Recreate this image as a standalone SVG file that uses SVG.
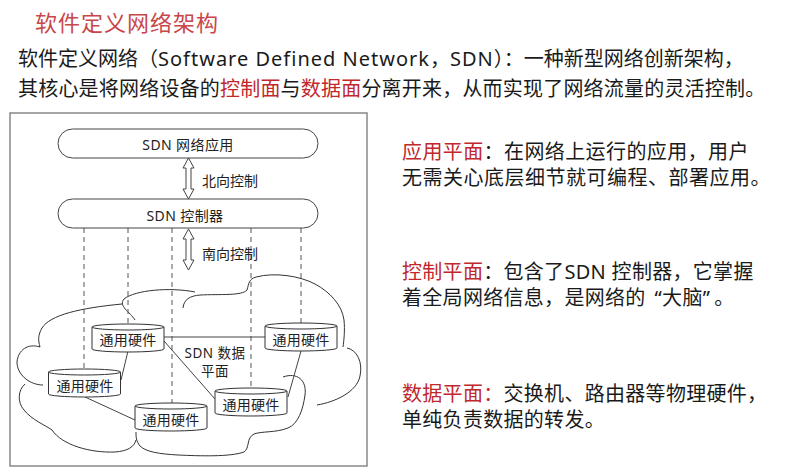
<svg xmlns="http://www.w3.org/2000/svg" xmlns:xlink="http://www.w3.org/1999/xlink" width="797" height="474" viewBox="0 0 797 474">
<style>
.cjk{font-family:"Noto Sans","Noto Sans CJK SC",sans-serif;}
.zh{font-family:"Noto Sans CJK SC",sans-serif;}
.big{font-size:20px;fill:#1a1a1a;}
.title{font-size:22px;fill:#c8474a;letter-spacing:1px;}
.red{fill:#c0282d;}
.dt{font-size:14px;fill:#222;}
.hw{font-size:14px;fill:#222;text-anchor:middle;letter-spacing:0.3px;}
.pill{fill:#fff;stroke:#444;stroke-width:1;}
.cyl{fill:#fff;stroke:#333;stroke-width:1;}
.dash{stroke:#555;stroke-width:1;stroke-dasharray:5,4;fill:none;}
.line{stroke:#444;stroke-width:1;fill:none;}
.cloud{stroke:#333;stroke-width:1;fill:none;}
.arrow{fill:#fff;stroke:#444;stroke-width:1;stroke-linejoin:miter;}
</style>
<defs>
<g id="cyl">
<path class="cyl" d="M-36,3 A36,3 0 0,1 36,3 L36,25 A36,3 0 0,1 -36,25 Z"/>
<path class="cyl" d="M-36,3 A36,3 0 0,0 36,3" fill="none"/>
</g>
</defs>
<rect width="797" height="474" fill="#fff"/>

<text class="cjk title" x="35" y="31">软件定义网络架构</text>
<text class="cjk big" x="18" y="66">软件定义网络（<tspan letter-spacing="1">Software Defined Network</tspan>，<tspan letter-spacing="1">SDN</tspan>）：一种新型网络创新架构，</text>
<text class="cjk big" x="18" y="96" letter-spacing="0.2">其核心是将网络设备的<tspan class="red">控制面</tspan>与<tspan class="red">数据面</tspan>分离开来，从而实现了网络流量的灵活控制。</text>

<rect x="10" y="113" width="357" height="353" fill="none" stroke="#888" stroke-width="1.5"/>

<g id="cloud">
<path class="cloud" d="M135,320 C130,312 118,306 124,299 C135,290 170,287 195,292"/>
<path class="cloud" d="M183,308 C184,299 190,296 200,295 C220,294 242,296 247,290 C249,283 249,279 256,277 C275,272 300,276 315,284 C330,292 342,305 344,320 C345,330 344,340 343,347"/>
<path class="cloud" d="M347,348 C357,350 363,362 360,376 C357,392 335,402 317,405"/>
<path class="cloud" d="M283,377 C297,372 307,380 305,395 C303,410 298,424 288,428 C275,433 262,431 254,434 C246,438 250,448 244,452 C230,457 200,456 178,455 C160,454 146,452 140,446 C136,441 136,437 136,432"/>
<path class="cloud" d="M40,347 C38,340 38,335 42,328 C50,315 80,308 122,304"/>
<path class="cloud" d="M40,347 C28,343 18,350 17,362 C17,375 30,385 43,385"/>
<path class="cloud" d="M25,384 C18,390 17,402 24,410 C32,420 45,425 52,430 C62,445 90,453 115,452 C128,451 134,447 136,440"/>
</g>

<g id="connectors">
<line class="dash" x1="84" y1="228" x2="84" y2="369"/>
<line class="dash" x1="128" y1="228" x2="128" y2="324"/>
<line class="dash" x1="172" y1="228" x2="172" y2="403"/>
<line class="dash" x1="251" y1="228" x2="251" y2="388"/>
<line class="dash" x1="301" y1="228" x2="301" y2="323"/>
<line class="line" x1="164" y1="337" x2="265" y2="337"/>
<line class="line" x1="164" y1="341" x2="215" y2="399"/>
<line class="line" x1="128" y1="351" x2="121" y2="380"/>
<line class="line" x1="85" y1="397" x2="135" y2="420"/>
<line class="line" x1="301" y1="351" x2="288" y2="397"/>
<polygon class="arrow" points="188.5,158 194,168 191,168 191,189 194,189 188.5,199 183,189 186,189 186,168 183,168"/>
<polygon class="arrow" points="188.5,229 194,239 191,239 191,260 194,260 188.5,270 183,260 186,260 186,239 183,239"/>
<text class="zh dt" x="202" y="186">北向控制</text>
<text class="zh dt" x="202" y="259">南向控制</text>
</g>

<g id="app">
<rect class="pill" x="58" y="129" width="260" height="29" rx="14.5"/>
<text class="cjk dt" x="188" y="150" text-anchor="middle" letter-spacing="0.4">SDN  网络应用</text>
</g>
<g id="ctrl">
<rect class="pill" x="58" y="199" width="260" height="29" rx="14.5"/>
<text class="cjk dt" x="185" y="221" text-anchor="middle" letter-spacing="0.4">SDN  控制器</text>
</g>

<g id="hwA"><use xlink:href="#cyl" transform="translate(128,324)"/><text class="zh hw" x="128" y="345">通用硬件</text></g>
<g id="hwB"><use xlink:href="#cyl" transform="translate(84.5,369)"/><text class="zh hw" x="85" y="391">通用硬件</text></g>
<g id="hwC"><use xlink:href="#cyl" transform="translate(171,403)"/><text class="zh hw" x="171" y="425">通用硬件</text></g>
<g id="hwD"><use xlink:href="#cyl" transform="translate(251,388)"/><text class="zh hw" x="251" y="410">通用硬件</text></g>
<g id="hwE"><use xlink:href="#cyl" transform="translate(301,323)"/><text class="zh hw" x="301" y="345">通用硬件</text></g>

<g id="dataplane">
<text class="cjk" x="215" y="358" text-anchor="middle" font-size="13.5" fill="#222" letter-spacing="0.5">SDN 数据</text>
<text class="cjk" x="215" y="376" text-anchor="middle" font-size="13.5" fill="#222" letter-spacing="0.5">平面</text>
</g>

<g id="desc">
<text class="cjk big" x="402" y="159" letter-spacing="0.4"><tspan class="red">应用平面</tspan>：在网络上运行的应用，用户</text>
<text class="cjk big" x="402" y="185" letter-spacing="0.5">无需关心底层细节就可编程、部署应用。</text>
<text class="cjk big" x="402" y="279" letter-spacing="0.3"><tspan class="red">控制平面</tspan>：包含了SDN 控制器，它掌握</text>
<text class="cjk big" x="402" y="305" letter-spacing="0.3">着全局网络信息，是网络的<tspan dx="9">“</tspan>大脑”<tspan dx="4">。</tspan></text>
<text class="cjk big" x="402" y="401" letter-spacing="0.3"><tspan class="red">数据平面：</tspan>交换机、路由器等物理硬件，</text>
<text class="cjk big" x="402" y="427" letter-spacing="0.3">单纯负责数据的转发。</text>
</g>
</svg>
